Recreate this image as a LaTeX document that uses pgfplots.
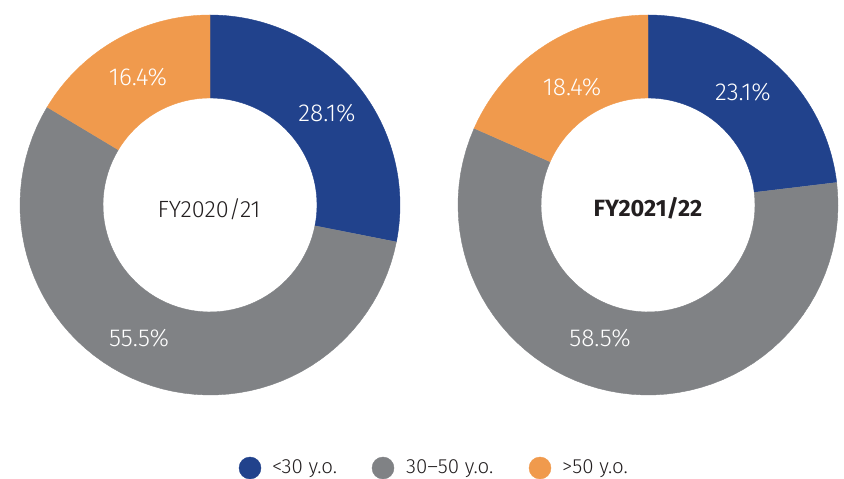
\documentclass[border=0pt]{standalone}
\usepackage{pgfplots}
\pgfplotsset{compat=1.18}
\usepackage{fontspec}
\setmainfont{Fira Sans}[UprightFont={* Light}, BoldFont={* Bold}]
\definecolor{cblue}{HTML}{21428C}
\definecolor{cgrey}{HTML}{808285}
\definecolor{corange}{HTML}{F09A4D}
\definecolor{ctext}{HTML}{231F20}
% #1 cx, #2 cy, #3 start %, #4 end %, #5 colour
\newcommand\slice[5]{%
  \addplot[fill=#5, draw=#5, line width=0.4pt, samples at={0,1,...,121}, variable=\t]
  ({#1 + ((\t<60.5) ? 190 : 107)*cos(((\t<60.5) ? (90-3.6*(#3+(#4-#3)*\t/60)) : (90-3.6*(#4-(#4-#3)*(\t-61)/60))))},
   {#2 + ((\t<60.5) ? 190 : 107)*sin(((\t<60.5) ? (90-3.6*(#3+(#4-#3)*\t/60)) : (90-3.6*(#4-(#4-#3)*(\t-61)/60))))});
}
\begin{document}
\begin{tikzpicture}
\begin{axis}[
  width=844bp, height=479bp, scale only axis,
  xmin=0, xmax=844, ymin=0, ymax=479,
  axis lines=none, clip=false,
]
\path (axis cs:0,0) rectangle (axis cs:844,479);
% FY2020/21 : <30 = 28.1, 30-50 = 55.5, >50 = 16.4
\slice{210}{274}{0}{28.1}{cblue}
\slice{210}{274}{28.1}{83.6}{cgrey}
\slice{210}{274}{83.6}{100}{corange}
% FY2021/22 : <30 = 23.1, 30-50 = 58.5, >50 = 18.4
\slice{648}{274}{0}{23.1}{cblue}
\slice{648}{274}{23.1}{81.6}{cgrey}
\slice{648}{274}{81.6}{100}{corange}

% legend markers
\addplot[only marks, mark=*, mark size=11bp, cblue] coordinates {(250,11)};
\addplot[only marks, mark=*, mark size=11bp, cgrey] coordinates {(383,11)};
\addplot[only marks, mark=*, mark size=11bp, corange] coordinates {(540,11)};

\begin{scope}[every node/.style={font=\fontsize{24.5bp}{28bp}\selectfont, text=white, inner sep=0pt}]
\node at (axis cs:327,366) {28.1\%};
\node at (axis cs:138,402) {16.4\%};
\node at (axis cs:139,141) {55.5\%};
\node at (axis cs:743,387) {23.1\%};
\node at (axis cs:572,392) {18.4\%};
\node at (axis cs:600,141) {58.5\%};
\end{scope}
\node[font=\fontsize{23.5bp}{27bp}\selectfont, text=ctext, inner sep=0pt] at (axis cs:209,270) {FY2020/21};
\node[font=\fontsize{23.5bp}{27bp}\selectfont\bfseries, text=ctext, inner sep=0pt] at (axis cs:648,271) {FY2021/22};

\begin{scope}[every node/.style={font=\fontsize{20.5bp}{24bp}\selectfont, text=ctext, inner sep=0pt, anchor=base west}]
\node at (axis cs:272,6) {<30 y.o.};
\node at (axis cs:406,6) {30–50 y.o.};
\node at (axis cs:562,6) {>50 y.o.};
\end{scope}
\end{axis}
\end{tikzpicture}
\end{document}
